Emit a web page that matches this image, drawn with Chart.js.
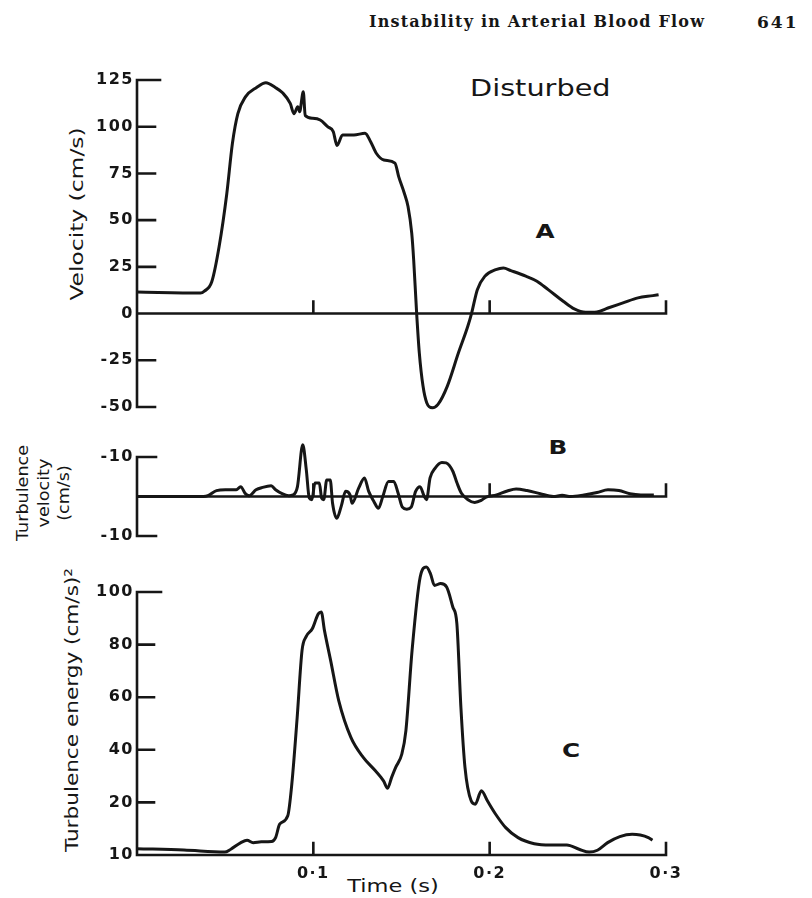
<!DOCTYPE html>
<html>
<head>
<meta charset="utf-8">
<script src="https://cdn.jsdelivr.net/npm/chart.js@4.4.1/dist/chart.umd.min.js"></script>
<style>
  html, body { margin: 0; padding: 0; background: #fff; }
  #page { position: relative; width: 812px; height: 898px; overflow: hidden; background: #fff; color: #161616; font-family: 'DejaVu Sans', sans-serif; }
  canvas { position: absolute; left: 0; }
  .t { position: absolute; white-space: nowrap; line-height: 1; }
</style>
</head>
<body>
<div id="page">
  <div class="t" style="left:369px; top:14px; font-family:'DejaVu Serif', serif; font-weight:bold; font-size:16px; letter-spacing:1.2px;">Instability in Arterial Blood Flow</div>
  <div class="t" style="left:757px; top:14px; font-family:'DejaVu Serif', serif; font-weight:bold; font-size:17px; letter-spacing:2px;">641</div>
  <div class="t" style="left:470px; top:77px; font-size:23px; transform-origin:0 0; transform:scaleX(1.25);">Disturbed</div>
  <div class="t" style="left:545px; top:231px; font-size:19px; font-weight:bold; transform:translate(-50%,-50%) scaleX(1.3);">A</div>
  <div class="t" style="left:558px; top:447px; font-size:19px; font-weight:bold; transform:translate(-50%,-50%) scaleX(1.3);">B</div>
  <div class="t" style="left:571px; top:750px; font-size:19px; font-weight:bold; transform:translate(-50%,-50%) scaleX(1.3);">C</div>
  <div class="t" style="left:77px; top:214px; font-size:18px; transform:translate(-50%,-50%) rotate(-90deg) scaleX(1.3);">Velocity (cm/s)</div>
  <div class="t" style="left:23px; top:493px; font-size:16px; transform:translate(-50%,-50%) rotate(-90deg) scaleX(1.1);">Turbulence</div>
  <div class="t" style="left:44px; top:493px; font-size:16px; transform:translate(-50%,-50%) rotate(-90deg) scaleX(1.1);">velocity</div>
  <div class="t" style="left:64px; top:493px; font-size:16px; transform:translate(-50%,-50%) rotate(-90deg) scaleX(1.1);">(cm/s)</div>
  <div class="t" style="left:72px; top:710px; font-size:18px; transform:translate(-50%,-50%) rotate(-90deg) scaleX(1.2);">Turbulence energy (cm/s)²</div>
  <div class="t" style="left:393px; top:886px; font-size:18px; transform:translate(-50%,-50%) scaleX(1.25);">Time (s)</div>
  <canvas id="cA" width="812" height="400" style="top:40px;"></canvas>
  <canvas id="cB" width="812" height="120" style="top:440px;"></canvas>
  <canvas id="cC" width="812" height="338" style="top:560px;"></canvas>
</div>
<script>
// ---- Panel A: velocity (cm/s) vs time (s)
const timeA = [0, 0.036, 0.0382, 0.0424, 0.0466, 0.0509, 0.0541, 0.0572, 0.0615, 0.0678, 0.0731, 0.0784, 0.0827, 0.0869, 0.089, 0.0912, 0.0922, 0.0943, 0.0954, 0.0996, 0.1039, 0.1081, 0.1113, 0.1134, 0.1166, 0.123, 0.1293, 0.1325, 0.1357, 0.14, 0.1463, 0.1484, 0.1516, 0.1537, 0.1558, 0.1569, 0.1586, 0.1601, 0.1622, 0.1643, 0.1675, 0.1707, 0.176, 0.1823, 0.1876, 0.1897, 0.193, 0.1972, 0.2035, 0.2078, 0.212, 0.2205, 0.2268, 0.2332, 0.2417, 0.248, 0.2544, 0.2608, 0.2671, 0.2756, 0.2841, 0.2926, 0.2958];
const velocityA = [11.5, 11, 12, 17, 36, 64, 91, 107, 116, 121, 123.5, 121, 118, 112.5, 107, 110.7, 108, 118.7, 106, 104.5, 103.6, 100, 97.4, 90, 95.6, 95.6, 96.5, 92, 85.8, 82.2, 80.5, 73.3, 64.4, 57.3, 43, 28.8, 0, -21, -38.8, -47.7, -50.4, -48.6, -38.8, -21, -6.8, 0, 12.8, 19.9, 23.5, 24.4, 23, 20, 17.3, 12.8, 6.6, 2.5, 0.7, 0.9, 3, 5.7, 8.4, 9.6, 10.1];
const yTicksA = [-50, -25, 0, 25, 50, 75, 100, 125];
const yLabelsA = ['-50', '-25', '0', '25', '50', '75', '100', '125'];

// ---- Panel B: turbulence velocity (cm/s)
const timeB = [0, 0.0377, 0.0402, 0.0451, 0.0501, 0.0563, 0.0588, 0.0613, 0.0637, 0.0675, 0.0712, 0.0761, 0.0786, 0.0823, 0.0861, 0.0885, 0.091, 0.094, 0.096, 0.0977, 0.0992, 0.1009, 0.1034, 0.1047, 0.1059, 0.1076, 0.1096, 0.1109, 0.1133, 0.1158, 0.1183, 0.1208, 0.122, 0.1257, 0.129, 0.1314, 0.1344, 0.1369, 0.1394, 0.1426, 0.1456, 0.1481, 0.1505, 0.153, 0.1555, 0.158, 0.1605, 0.1629, 0.1642, 0.1662, 0.1691, 0.1729, 0.1753, 0.1791, 0.1815, 0.184, 0.1877, 0.1915, 0.1952, 0.1977, 0.2039, 0.21, 0.215, 0.2212, 0.2287, 0.2361, 0.2411, 0.246, 0.2535, 0.2609, 0.2671, 0.2733, 0.2795, 0.2857, 0.2931];
const turbVelB = [0, 0, 0.2, 1.5, 1.7, 1.7, 2.5, 0.8, 0.2, 1.7, 2.3, 2.7, 1.7, 0.7, 0.2, 0.4, 2.5, 13.1, 6.8, -0.4, -0.8, 3.4, 3.4, -0.4, -0.8, 4.2, 4.2, -1.7, -5.5, -2.5, 1.3, 0.4, -1.7, 2.1, 4.7, 1.3, -1.3, -3, 0, 3.8, 3.8, 0.8, -2.7, -3.2, -2.7, 1.3, 2.5, 0, -0.8, 4.7, 7.2, 8.6, 8.5, 6.4, 3.4, 0.8, -0.8, -1.5, -1, -0.2, 0.4, 1.4, 1.9, 1.5, 0.7, 0, 0.3, 0, 0.4, 1, 1.7, 1.5, 0.7, 0.4, 0.4];
const yTicksB = [-10, 0, 10];
const yLabelsB = ['-10', '', '-10'];

// ---- Panel C: turbulence energy (cm/s)^2
const timeC = [0, 0.0266, 0.0497, 0.0532, 0.0589, 0.0624, 0.0659, 0.0705, 0.0763, 0.0786, 0.0809, 0.0855, 0.0878, 0.0908, 0.0936, 0.0959, 0.0994, 0.1028, 0.1045, 0.1063, 0.1098, 0.1144, 0.1213, 0.1283, 0.1352, 0.1398, 0.1421, 0.1444, 0.1467, 0.1502, 0.1525, 0.156, 0.1606, 0.1641, 0.1664, 0.1687, 0.1722, 0.1756, 0.1791, 0.1814, 0.1837, 0.186, 0.1895, 0.1918, 0.1953, 0.1987, 0.2034, 0.2091, 0.2161, 0.2253, 0.2346, 0.2438, 0.2507, 0.2565, 0.2611, 0.2669, 0.2738, 0.2808, 0.2854, 0.29, 0.2923];
const energyC = [2.4, 1.9, 1.1, 2.2, 4.7, 5.6, 4.7, 5, 5.1, 6.6, 11.7, 14.9, 27, 52, 77.8, 83, 86, 91.7, 92.4, 85.4, 74, 58.7, 44.7, 37.1, 32, 28.2, 25.4, 29.5, 33.3, 38.4, 47.3, 77.8, 105.7, 109.5, 107, 102.5, 103.2, 101.9, 94.3, 88, 56, 33.3, 20.6, 19.3, 24.4, 20.6, 15.5, 10.4, 6.6, 4.3, 3.8, 3.8, 2.2, 1.1, 1.8, 4.7, 7, 7.9, 7.6, 6.6, 5.6];
const yTicksC = [0, 20, 40, 60, 80, 100];
const yLabelsC = ['10', '20', '40', '60', '80', '100'];

// ---- shared time axis
const xTicks = [0.1, 0.2, 0.3];
const xLabels = ['0·1', '0·2', '0·3'];

const INK = '#161616';
const tickFont = { family: 'DejaVu Sans', size: 16, weight: 'bold' };

function paperAxes(cfg) {
  return {
    id: 'paperAxes',
    beforeDraw(chart) {
      // wide digits like the original figure's lettering
      chart.ctx.letterSpacing = '1.5px';
    },
    afterDatasetsDraw(chart) {
      const { ctx, scales: { x, y } } = chart;
      const x0 = x.getPixelForValue(0);
      const x1 = x.getPixelForValue(0.3);
      ctx.save();
      ctx.strokeStyle = INK;
      ctx.lineWidth = 2.6;
      ctx.lineCap = 'square';
      ctx.beginPath();
      ctx.moveTo(x0, y.getPixelForValue(cfg.yTop));
      ctx.lineTo(x0, y.getPixelForValue(cfg.yBottom));
      cfg.yTicks.forEach((v, i) => {
        const py = y.getPixelForValue(v);
        ctx.moveTo(x0, py);
        ctx.lineTo(x0 + cfg.yTickLen[i], py);
      });
      const ay = y.getPixelForValue(cfg.xAxisAt);
      ctx.moveTo(x0, ay);
      ctx.lineTo(x1, ay);
      xTicks.forEach(v => {
        const px = x.getPixelForValue(v);
        ctx.moveTo(px, ay);
        ctx.lineTo(px, ay - cfg.xTickLen);
      });
      ctx.stroke();
      ctx.restore();
    }
  };
}

function makeChart(id, times, values, yMin, yMax, yTicks, yLabels, pad, showX, axesCfg) {
  return new Chart(document.getElementById(id), {
    type: 'line',
    data: {
      datasets: [{
        data: times.map((t, i) => ({ x: t, y: values[i] })),
        borderColor: INK,
        borderWidth: 3,
        pointRadius: 0,
        fill: false,
        cubicInterpolationMode: 'monotone',
        clip: false
      }]
    },
    options: {
      responsive: false,
      animation: false,
      devicePixelRatio: 1,
      layout: { padding: pad },
      plugins: { legend: { display: false }, tooltip: { enabled: false } },
      scales: {
        x: {
          type: 'linear', min: 0, max: 0.3,
          display: showX,
          grid: { display: false, drawTicks: false },
          border: { display: false },
          afterBuildTicks: s => { s.ticks = xTicks.map(v => ({ value: v })); },
          afterFit: s => { s.height = showX ? 43 : 0; },
          ticks: {
            autoSkip: false, maxRotation: 0, padding: 9,
            font: tickFont, color: INK,
            callback: (v, i) => xLabels[i]
          }
        },
        y: {
          type: 'linear', min: yMin, max: yMax,
          grid: { display: false, drawTicks: false },
          border: { display: false },
          afterBuildTicks: s => { s.ticks = yTicks.map(v => ({ value: v })); },
          afterFit: s => { s.width = 137; },
          ticks: {
            autoSkip: false, padding: 3,
            font: tickFont, color: INK,
            callback: (v, i) => yLabels[i]
          }
        }
      }
    },
    plugins: [paperAxes(axesCfg)]
  });
}

makeChart('cA', timeA, velocityA, -50, 125, yTicksA, yLabelsA,
  { top: 40, bottom: 33, left: 0, right: 146 }, false,
  { yTop: 125, yBottom: -50, yTicks: yTicksA, yTickLen: [18, 18, 0, 18, 18, 18, 18, 23], xAxisAt: 0, xTickLen: 12 });

makeChart('cB', timeB, turbVelB, -10, 10, yTicksB, yLabelsB,
  { top: 17, bottom: 24, left: 0, right: 146 }, false,
  { yTop: 10, yBottom: -10, yTicks: yTicksB, yTickLen: [19, 0, 19], xAxisAt: 0, xTickLen: 12 });

makeChart('cC', timeC, energyC, 0, 100, yTicksC, yLabelsC,
  { top: 32, bottom: 0, left: 0, right: 146 }, true,
  { yTop: 100, yBottom: 0, yTicks: yTicksC, yTickLen: [0, 17, 17, 17, 17, 24], xAxisAt: 0, xTickLen: 12 });
</script>
</body>
</html>
